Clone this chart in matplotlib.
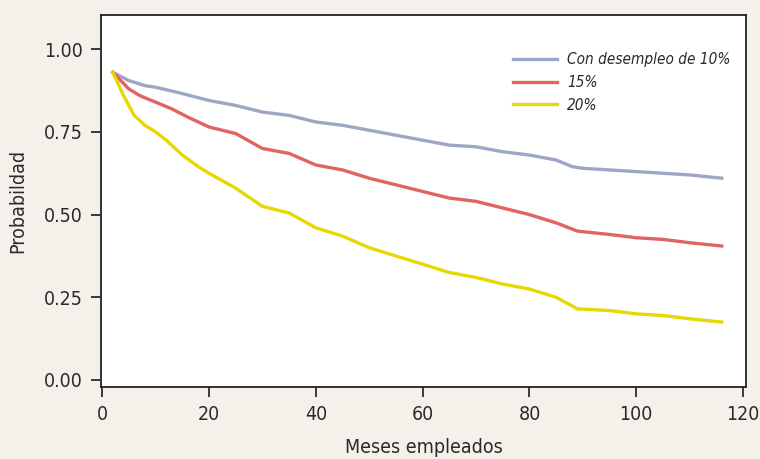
import matplotlib
matplotlib.use("Agg")
import matplotlib.pyplot as plt

# meses empleados
meses = [2, 5, 8, 10, 14, 20, 25, 30, 35, 40, 45, 50, 55, 60, 65, 70, 75,
         80, 85, 88, 90, 95, 100, 105, 110, 116]
desempleo_10 = [0.93, 0.905, 0.89, 0.885, 0.87, 0.845, 0.83, 0.81, 0.80, 0.78,
                0.77, 0.755, 0.74, 0.725, 0.71, 0.705, 0.69, 0.68, 0.665, 0.645,
                0.64, 0.635, 0.63, 0.625, 0.62, 0.61]

meses_15 = [2, 5, 7, 10, 13, 16, 20, 25, 30, 35, 40, 45, 50, 55, 60, 65, 70,
            75, 80, 85, 89, 95, 100, 105, 110, 116]
desempleo_15 = [0.93, 0.88, 0.86, 0.84, 0.82, 0.795, 0.765, 0.745, 0.70, 0.685,
                0.65, 0.635, 0.61, 0.59, 0.57, 0.55, 0.54, 0.52, 0.50, 0.475,
                0.45, 0.44, 0.43, 0.425, 0.415, 0.405]

meses_20 = [2, 4, 6, 8, 10, 12, 15, 18, 20, 25, 30, 35, 40, 45, 50, 55, 60,
            65, 70, 75, 80, 85, 89, 95, 100, 105, 110, 116]
desempleo_20 = [0.93, 0.86, 0.80, 0.77, 0.75, 0.725, 0.68, 0.645, 0.625, 0.58,
                0.525, 0.505, 0.46, 0.435, 0.40, 0.375, 0.35, 0.325, 0.31, 0.29,
                0.275, 0.25, 0.215, 0.21, 0.20, 0.195, 0.185, 0.175]

plt.rcParams['font.family'] = ['DejaVu Sans']
plt.rcParams['font.stretch'] = 'condensed'

bg = "#f4f1ea"
txt = "#2a2a2a"
fig = plt.figure(figsize=(7.6, 4.59), dpi=100, facecolor=bg)
ax = fig.add_axes([0.133, 0.157, 0.849, 0.810])
ax.set_facecolor("white")

ax.plot(meses, desempleo_10, color="#9ea6c6", lw=2.4, label="Con desempleo de 10%")
ax.plot(meses_15, desempleo_15, color="#e06461", lw=2.4, label="15%")
ax.plot(meses_20, desempleo_20, color="#e6d800", lw=2.4, label="20%")

ax.set_xlim(-0.2, 120.6)
ax.set_ylim(-0.021, 1.103)
ax.set_xticks([0, 20, 40, 60, 80, 100, 120])
ax.set_yticks([0, 0.25, 0.5, 0.75, 1.0])
ax.set_yticklabels(["0.00", "0.25", "0.50", "0.75", "1.00"])
ax.tick_params(direction="out", length=7, width=1.3, labelsize=14,
               colors=txt, pad=6)
for s in ax.spines.values():
    s.set_linewidth(1.3)
    s.set_color("#222222")

ax.set_xlabel("Meses empleados", fontsize=14, color=txt, labelpad=10)
ax.set_ylabel("Probabildad", fontsize=14, color=txt, labelpad=12)

leg = ax.legend(loc="upper left", bbox_to_anchor=(0.638, 0.90), frameon=False,
                prop={"style": "italic", "size": 11}, handlelength=2.9,
                handletextpad=0.65, labelspacing=0.5, borderpad=0,
                borderaxespad=0)
for t in leg.get_texts():
    t.set_color(txt)

fig.savefig("out.png", dpi=100, facecolor=bg)
